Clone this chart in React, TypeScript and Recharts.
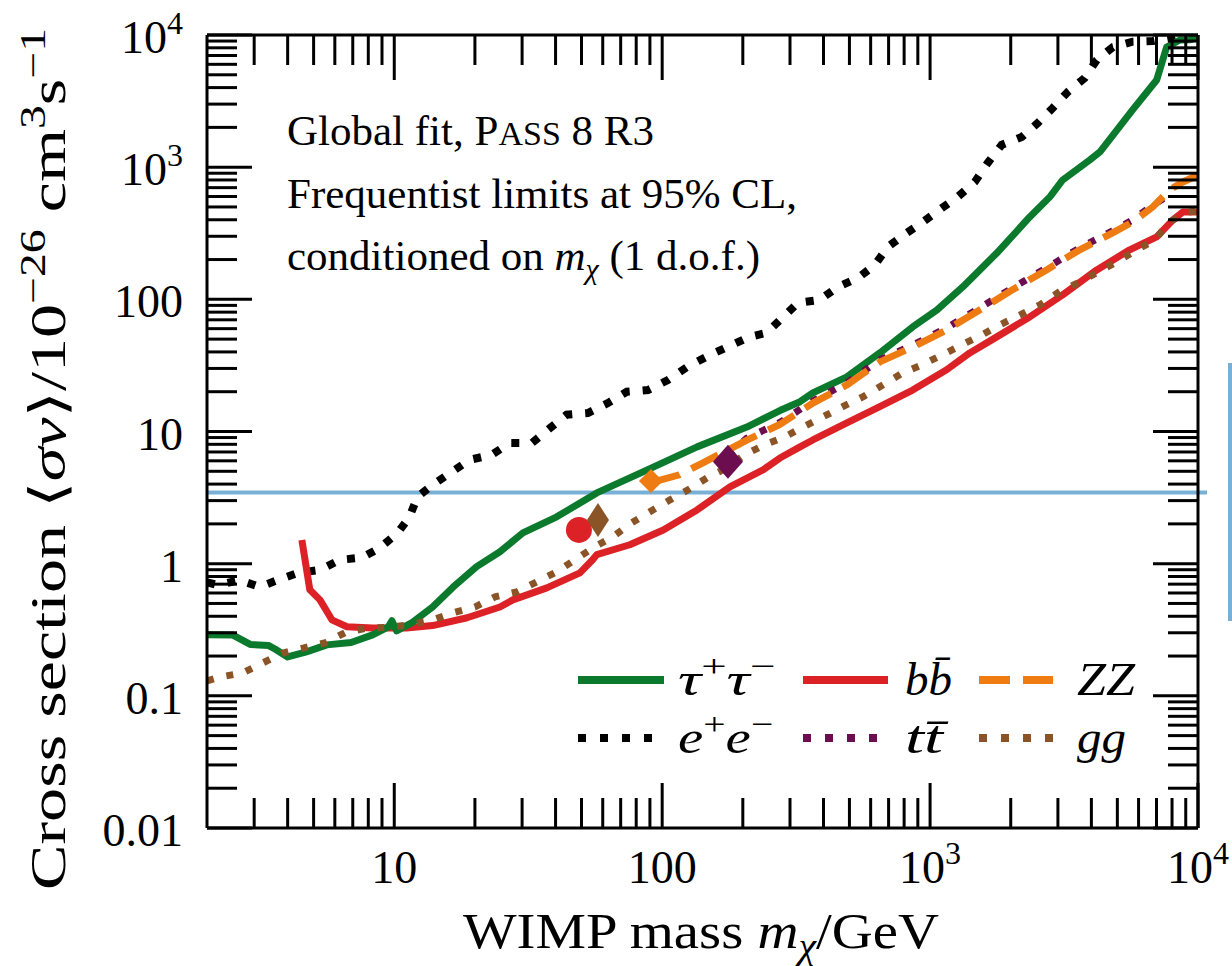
import React from 'react';
import { ComposedChart, Line, Scatter, XAxis, YAxis, ReferenceLine, Customized } from 'recharts';

const SERIF = '"Liberation Serif", "DejaVu Serif", serif';

// axis ticks
const X_MAJOR = [10, 100, 1000, 10000];
const X_MAJOR_LABELS = ['10', '100', '10^3', '10^4'];
const X_MINOR = [3, 4, 5, 6, 7, 8, 9, 20, 30, 40, 50, 60, 70, 80, 90, 200, 300, 400, 500, 600, 700, 800, 900, 2000, 3000, 4000, 5000, 6000, 7000, 8000, 9000];
const Y_MAJOR = [0.01, 0.1, 1, 10, 100, 1000, 10000];
const Y_MAJOR_LABELS = ['0.01', '0.1', '1', '10', '100', '10^3', '10^4'];
const Y_MINOR = [0.02, 0.03, 0.04, 0.05, 0.06, 0.07, 0.08, 0.09, 0.2, 0.3, 0.4, 0.5, 0.6, 0.7, 0.8, 0.9, 2, 3, 4, 5, 6, 7, 8, 9, 20, 30, 40, 50, 60, 70, 80, 90, 200, 300, 400, 500, 600, 700, 800, 900, 2000, 3000, 4000, 5000, 6000, 7000, 8000, 9000];

// tau+ tau-
const TAU_MASS = [2, 2.5, 2.9, 3.4, 3.6, 4.0, 4.7, 5.6, 6.9, 8.3, 9.5, 9.8, 10.2, 11.7, 13.9, 16.6, 20.3, 24.8, 30.2, 40.4, 57, 88, 135, 207, 275, 327, 365, 489, 649, 861, 1059, 1324, 1774, 2355, 2800, 3126, 3944, 4300, 5700, 7010, 7640, 8550, 9310, 10000];
const TAU_SIGMA = [0.29, 0.288, 0.245, 0.24, 0.225, 0.197, 0.215, 0.243, 0.253, 0.289, 0.333, 0.37, 0.31, 0.36, 0.47, 0.667, 0.95, 1.23, 1.71, 2.26, 3.43, 5.13, 7.65, 10.8, 14.4, 16.8, 19.6, 25.9, 39.3, 61.8, 83, 124, 224, 420, 596, 800, 1132, 1300, 2710, 4570, 8100, 9160, 9200, 9600];

// b bbar
const BB_MASS = [4.52, 4.84, 5.28, 5.85, 6.66, 8.3, 11.1, 13.9, 18.7, 24.8, 27.7, 37.1, 49.3, 55, 57, 75.7, 101, 135, 179, 238, 275, 327, 365, 489, 649, 861, 1153, 1406, 1774, 2355, 3126, 4190, 5560, 7010, 8050, 8780, 10000];
const BB_SIGMA = [1.51, 0.634, 0.532, 0.376, 0.333, 0.326, 0.326, 0.34, 0.39, 0.47, 0.532, 0.656, 0.851, 1.07, 1.17, 1.39, 1.8, 2.55, 3.81, 5.13, 6.3, 7.65, 8.63, 11.6, 15.4, 20.6, 29.3, 39.3, 52, 73.6, 108, 167, 237, 297, 398, 457, 457];

// ZZ
const ZZ_MASS = [90.8, 116, 142, 207, 275, 365, 489, 649, 861, 1153, 1531, 2030, 2720, 3620, 4800, 5700, 6780, 7840, 8780, 10000];
const ZZ_SIGMA = [4.1, 4.7, 5.8, 8.6, 11.3, 16.4, 22.5, 33.6, 43.6, 58.7, 83, 118, 167, 237, 318, 385, 500, 673, 773, 870];

// e+ e-
const EE_MASS = [2, 2.2, 2.65, 3.15, 3.68, 4.37, 5.28, 6.27, 7.57, 8.85, 10.3, 11.4, 12.2, 13.9, 16.4, 19.1, 23.1, 27, 32.7, 38.1, 44, 52.8, 62.7, 73.8, 88.5, 105, 124, 151, 212, 245, 280, 321, 387, 452, 537, 622, 695, 818, 940, 1107, 1268, 1469, 1641, 1849, 2198, 2522, 2870, 3266, 3777, 4190, 4810, 5700, 6780, 8000, 10000];
const EE_SIGMA = [0.72, 0.69, 0.75, 0.667, 0.753, 0.851, 0.897, 1.07, 1.11, 1.32, 1.71, 2.26, 3.2, 3.94, 4.95, 6.1, 6.66, 8.2, 8.2, 10.6, 13.4, 13.8, 16.4, 20, 20.6, 24.5, 30.8, 38, 52, 55.7, 72, 94, 99, 124, 145, 182, 249, 318, 385, 491, 596, 773, 1076, 1473, 1692, 2158, 2803, 3710, 4730, 6470, 8110, 8900, 9000, 9600, 11000];

// t tbar
const TT_MASS = [176, 207, 275, 365, 489, 649, 861, 1153, 1531, 2030, 2720, 3620, 4800, 5700, 6780, 8050];
const TT_SIGMA = [6.6, 8.9, 11.7, 17, 23.3, 34.8, 45, 60.8, 86, 122, 173, 245, 329, 398, 517, 640];

// gg
const GG_MASS = [2, 2.24, 2.72, 3.24, 3.85, 4.57, 5.5, 6.54, 7.9, 9.6, 11.4, 13.9, 16.6, 20, 23.8, 28.7, 34, 40.4, 47.2, 56, 65.5, 77, 90, 107, 125, 147, 174, 203, 241, 287, 335, 398, 472, 561, 666, 791, 931, 1107, 1313, 1560, 1820, 2160, 2570, 3050, 3620, 4230, 4980, 5900, 6890, 7840, 8920, 10000];
const GG_SIGMA = [0.13, 0.139, 0.149, 0.178, 0.211, 0.23, 0.251, 0.3, 0.326, 0.33, 0.345, 0.375, 0.425, 0.47, 0.561, 0.612, 0.728, 0.867, 1.07, 1.34, 1.6, 2.04, 2.47, 3.04, 3.62, 4.46, 5.3, 6.66, 7.93, 9.1, 10.8, 12.9, 15.4, 18.3, 22.5, 27.8, 31.9, 37.9, 45.2, 53.8, 64, 76, 90.7, 115, 135, 161, 192, 237, 281, 385, 451, 470];

// best-fit markers
const MARKER_MASS = [48.9, 57.6, 90.8, 176];
const MARKER_SIGMA = [1.8, 2.14, 4.23, 5.9];
const MARKER_CHANNEL = ['bb', 'gg', 'ZZ', 'tt'];

// thermal relic line
const RELIC_SIGMA = 3.45;

const COLORS: Record<string, string> = {
  tau: '#0b7a2c',
  bb: '#dc2226',
  ZZ: '#ee7c12',
  ee: '#000000',
  tt: '#6c0d50',
  gg: '#8a5427',
  relic: '#78b0d8',
};

const zip = (xs: number[], ys: number[]) => xs.map((x, i) => ({ x, y: ys[i] }));

const TickText = ({ label, ...rest }: any) => {
  const [base, sup] = label.split('^');
  return (
    <text {...rest} fontFamily={SERIF} fontSize={46} fill="#000">
      {base}
      {sup && <tspan dy={-19} fontSize={32}>{sup}</tspan>}
    </text>
  );
};

const BottomTick = ({ x, y, payload }: any) => {
  const i = X_MAJOR.indexOf(payload.value);
  return (
    <g>
      <line x1={x} x2={x} y1={y} y2={y - (i >= 0 ? 45 : 30)} stroke="#000" strokeWidth={3} />
      {i >= 0 && <TickText label={X_MAJOR_LABELS[i]} x={x} y={y + 55} textAnchor="middle" />}
    </g>
  );
};

const TopTick = ({ x, y, payload }: any) => {
  const major = X_MAJOR.includes(payload.value);
  return <line x1={x} x2={x} y1={y} y2={y + (major ? 45 : 30)} stroke="#000" strokeWidth={3} />;
};

const LeftTick = ({ x, y, payload }: any) => {
  const i = Y_MAJOR.indexOf(payload.value);
  return (
    <g>
      <line x1={x} x2={x + (i >= 0 ? 45 : 30)} y1={y} y2={y} stroke="#000" strokeWidth={3} />
      {i >= 0 && <TickText label={Y_MAJOR_LABELS[i]} x={x - 24} y={y + 18} textAnchor="end" />}
    </g>
  );
};

const RightTick = ({ x, y, payload }: any) => {
  const major = Y_MAJOR.includes(payload.value);
  return <line x1={x} x2={x - (major ? 45 : 30)} y1={y} y2={y} stroke="#000" strokeWidth={3} />;
};

const Marker = ({ cx, cy, payload }: any) => {
  const c = COLORS[payload.channel];
  if (payload.channel === 'bb') return <circle cx={cx} cy={cy} r={13} fill={c} />;
  const [hw, hh] = payload.channel === 'tt' ? [15, 17] : payload.channel === 'ZZ' ? [12, 12] : [11, 17];
  return <polygon points={`${cx},${cy - hh} ${cx + hw},${cy} ${cx},${cy + hh} ${cx - hw},${cy}`} fill={c} />;
};

const SUP = { fontSize: 32, fontStyle: 'normal' as const };

const LEGEND = [
  { key: 'tau', row: 0, col: 0, width: 8, dash: undefined, len: 97, label: <>τ<tspan dy={-18} {...SUP}>+</tspan><tspan dy={18}>τ</tspan><tspan dy={-18} {...SUP}>−</tspan></> },
  { key: 'bb', row: 0, col: 1, width: 8, dash: undefined, len: 47, label: <>bb̄</> },
  { key: 'ZZ', row: 0, col: 2, width: 8, dash: '31 13', len: 58, label: <>ZZ</> },
  { key: 'ee', row: 1, col: 0, width: 8, dash: '8 14', len: 95, label: <>e<tspan dy={-18} {...SUP}>+</tspan><tspan dy={18}>e</tspan><tspan dy={-18} {...SUP}>−</tspan></> },
  { key: 'tt', row: 1, col: 1, width: 8, dash: '8 14', len: 38, label: <>tt̄</> },
  { key: 'gg', row: 1, col: 2, width: 8, dash: '8 14', len: 49, label: <>gg</> },
];
const LEG_LINE_X = [[578, 664], [803, 888], [979, 1053]];
const LEG_TEXT_X = [678, 905, 1077];
const LEG_ROW_Y = [680, 738];

const Overlay = () => (
  <g fontFamily={SERIF} fill="#000">
    <text x={287} y={145} fontSize={43}>Global fit, P<tspan fontSize={34}>ASS</tspan> 8 R3</text>
    <text x={287} y={208} fontSize={43}>Frequentist limits at 95% CL,</text>
    <text x={287} y={270} fontSize={43}>conditioned on <tspan fontStyle="italic">m</tspan><tspan fontStyle="italic" fontSize={30} dy={9}>χ</tspan><tspan dy={-9}> (1 d.o.f.)</tspan></text>

    <text x={701} y={948} fontSize={50} textAnchor="middle" textLength={476} lengthAdjust="spacingAndGlyphs">WIMP mass <tspan fontStyle="italic">m</tspan><tspan fontStyle="italic" fontSize={35} dy={10}>χ</tspan><tspan dy={-10}>/GeV</tspan></text>
    <text transform="rotate(-90 65 459)" x={65} y={459} fontSize={50} textAnchor="middle" textLength={862} lengthAdjust="spacingAndGlyphs">Cross section ⟨<tspan fontStyle="italic">σv</tspan>⟩/10<tspan dy={-20} fontSize={35}>−26</tspan><tspan dy={20}> cm</tspan><tspan dy={-20} fontSize={35}>3</tspan><tspan dy={20}>s</tspan><tspan dy={-20} fontSize={35}>−1</tspan></text>

    {LEGEND.map((l) => (
      <g key={l.key}>
        <line x1={LEG_LINE_X[l.col][0]} x2={LEG_LINE_X[l.col][1]} y1={LEG_ROW_Y[l.row]} y2={LEG_ROW_Y[l.row]} stroke={COLORS[l.key]} strokeWidth={l.width} strokeDasharray={l.dash} />
        <text x={LEG_TEXT_X[l.col]} y={LEG_ROW_Y[l.row] + 15} fontSize={46} fontStyle="italic" textLength={l.len} lengthAdjust="spacingAndGlyphs">{l.label}</text>
      </g>
    ))}
  </g>
);

const RelicLine = (p: any) => <line x1={p.x1} y1={p.y1} x2={p.x2 + 9} y2={p.y2} stroke={COLORS.relic} strokeWidth={4} />;

export default function App() {
  const markers = MARKER_MASS.map((x, i) => ({ x, y: MARKER_SIGMA[i], channel: MARKER_CHANNEL[i] }));
  const xTicks = [...X_MINOR, ...X_MAJOR];
  const yTicks = [...Y_MINOR, ...Y_MAJOR];
  const frame = { stroke: '#000', strokeWidth: 3 };

  return (
    <div style={{ position: 'absolute', left: 0, top: 0, width: 1232, height: 966, background: '#fff' }}>
      <ComposedChart width={1232} height={966} margin={{ top: 0, right: 0, bottom: 0, left: 0 }}>
        <XAxis dataKey="x" type="number" scale="log" domain={[2, 10000]} allowDataOverflow ticks={xTicks} interval={0} height={138} tickSize={0} tickMargin={0} tickLine={false} axisLine={frame} tick={BottomTick} />
        <XAxis xAxisId="top" orientation="top" dataKey="x" type="number" scale="log" domain={[2, 10000]} allowDataOverflow ticks={xTicks} interval={0} height={35} tickSize={0} tickMargin={0} tickLine={false} axisLine={frame} tick={TopTick} />
        <YAxis type="number" scale="log" domain={[0.01, 10000]} allowDataOverflow ticks={yTicks} interval={0} width={207} tickSize={0} tickMargin={0} tickLine={false} axisLine={frame} tick={LeftTick} />
        <YAxis yAxisId="right" orientation="right" type="number" scale="log" domain={[0.01, 10000]} allowDataOverflow ticks={yTicks} interval={0} width={34} tickSize={0} tickMargin={0} tickLine={false} axisLine={frame} tick={RightTick} />

        <ReferenceLine y={RELIC_SIGMA} shape={RelicLine} />

        <Line data={zip(EE_MASS, EE_SIGMA)} dataKey="y" stroke={COLORS.ee} strokeWidth={8} strokeDasharray="8 13" dot={false} isAnimationActive={false} />
        <Line data={zip(BB_MASS, BB_SIGMA)} dataKey="y" stroke={COLORS.bb} strokeWidth={7} strokeLinejoin="round" dot={false} isAnimationActive={false} />
        <Line data={zip(TAU_MASS, TAU_SIGMA)} dataKey="y" stroke={COLORS.tau} strokeWidth={7} strokeLinejoin="round" dot={false} isAnimationActive={false} />
        <Line data={zip(TT_MASS, TT_SIGMA)} dataKey="y" stroke={COLORS.tt} strokeWidth={7} strokeDasharray="7 13" dot={false} isAnimationActive={false} />
        <Line data={zip(ZZ_MASS, ZZ_SIGMA)} dataKey="y" stroke={COLORS.ZZ} strokeWidth={7} strokeDasharray="30 13" dot={false} isAnimationActive={false} />
        <Line data={zip(GG_MASS, GG_SIGMA)} dataKey="y" stroke={COLORS.gg} strokeWidth={7} strokeDasharray="7 13" dot={false} isAnimationActive={false} />
        <Scatter data={markers} dataKey="y" shape={Marker} isAnimationActive={false} />

        <Customized component={Overlay} />
      </ComposedChart>
      <div style={{ position: 'absolute', left: 1228, top: 363, width: 4, height: 258, background: COLORS.relic }} />
    </div>
  );
}
